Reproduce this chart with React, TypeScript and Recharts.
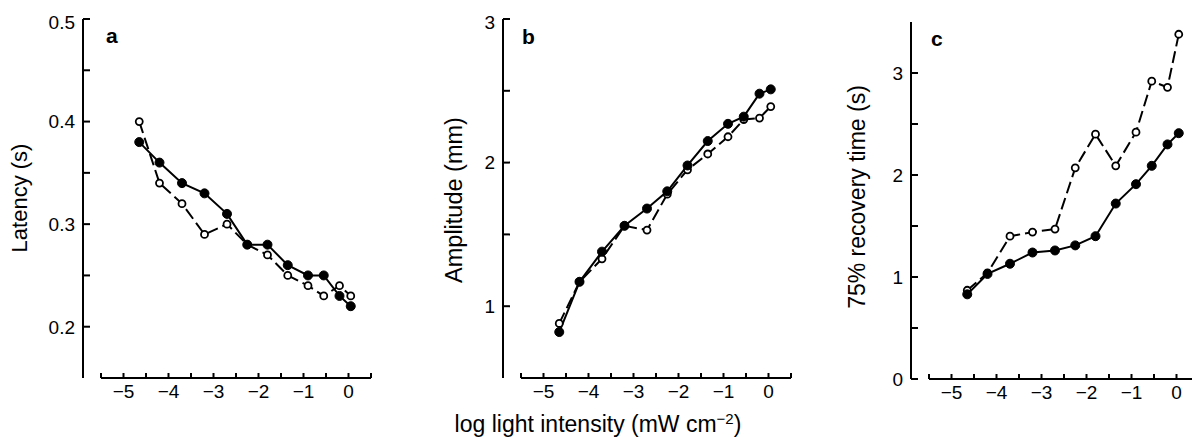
import React from 'react';
import { LineChart, Line, XAxis, YAxis, ReferenceLine } from 'recharts';

// log light intensity (mW cm^-2) for each stimulus
const intensity = [-4.65, -4.2, -3.7, -3.2, -2.7, -2.25, -1.8, -1.35, -0.9, -0.55, -0.2, 0.05];

// panel a: latency (s)
const latencyFilled = [0.38, 0.36, 0.34, 0.33, 0.31, 0.28, 0.28, 0.26, 0.25, 0.25, 0.23, 0.22];
const latencyOpen = [0.40, 0.34, 0.32, 0.29, 0.30, 0.28, 0.27, 0.25, 0.24, 0.23, 0.24, 0.23];

// panel b: amplitude (mm)
const amplitudeFilled = [0.82, 1.17, 1.38, 1.56, 1.68, 1.80, 1.98, 2.15, 2.27, 2.32, 2.48, 2.51];
const amplitudeOpen = [0.88, 1.17, 1.33, 1.56, 1.53, 1.78, 1.95, 2.06, 2.18, 2.30, 2.31, 2.39];

// panel c: 75% recovery time (s)
const recoveryFilled = [0.83, 1.03, 1.13, 1.24, 1.26, 1.31, 1.40, 1.72, 1.91, 2.09, 2.30, 2.41];
const recoveryOpen = [0.87, 1.04, 1.40, 1.44, 1.47, 2.07, 2.40, 2.09, 2.42, 2.92, 2.86, 3.38];

// axis ticks
const xTicks = [-5.5, -5, -4.5, -4, -3.5, -3, -2.5, -2, -1.5, -1, -0.5, 0, 0.5];
const xLabeled = [-5, -4, -3, -2, -1, 0];
const latencyMajor = [0.2, 0.3, 0.4, 0.5];
const latencyMinor = [0.25, 0.35, 0.45];
const amplitudeMajor = [1, 2, 3];
const amplitudeMinor = [1.5, 2.5];
const recoveryMajor = [0, 1, 2, 3];
const recoveryMinor = [0.5, 1.5, 2.5];

const FONT = '"Liberation Sans", Arial, Helvetica, sans-serif';
const X_DOMAIN: [number, number] = [-5.9, 0.5];
const X_LINE: [number, number] = [-5.5, 0.5];

function fmt(v: number, digits: number) {
  const s = Math.abs(v).toFixed(digits);
  return v < 0 ? `\u2212${s}` : s;
}

function XTick(props: any) {
  const { x, y, payload } = props;
  const v = payload.value;
  const labeled = xLabeled.some((t) => Math.abs(t - v) < 1e-6);
  return (
    <g>
      <line x1={x} x2={x} y1={y} y2={y - 5} stroke="#000" strokeWidth={2} />
      {labeled && (
        <text x={x} y={y + 20} textAnchor="middle" fontSize={19} fontFamily={FONT} fill="#000">
          {fmt(v, 0)}
        </text>
      )}
    </g>
  );
}

function makeYTick(major: number[], digits: number, topValue: number) {
  return function YTick(props: any) {
    const { x, y, payload } = props;
    const v = payload.value;
    const isMajor = major.some((t) => Math.abs(t - v) < 1e-6);
    const shift = Math.abs(v - topValue) < 1e-6 ? 3 : 0;
    return (
      <g>
        <line x1={x} x2={x + 7} y1={y} y2={y} stroke="#000" strokeWidth={2} />
        {isMajor && (
          <text x={x - 8} y={y + shift} dy="0.36em" textAnchor="end" fontSize={19} fontFamily={FONT} fill="#000">
            {fmt(v, digits)}
          </text>
        )}
      </g>
    );
  };
}

type PanelProps = {
  left: number;
  yWidth: number;
  top: number;
  bottom: number;
  filled: number[];
  open: number[];
  yDomain: [number, number];
  major: number[];
  minor: number[];
  digits: number;
  topShiftValue: number;
};

function Panel(p: PanelProps) {
  const data = intensity.map((x, i) => ({ x, filled: p.filled[i], open: p.open[i] }));
  const height = 437;
  const xAxisHeight = height - p.bottom;
  const width = p.yWidth + 288 + 12;
  const ticks = [...p.major, ...p.minor].sort((a, b) => a - b);
  const YT = makeYTick(p.major, p.digits, p.topShiftValue);
  return (
    <div style={{ position: 'absolute', left: p.left - p.yWidth, top: 0, width, height }}>
      <LineChart width={width} height={height} data={data} margin={{ top: p.top, right: 12, bottom: 0, left: 0 }}>
        <XAxis
          dataKey="x"
          type="number"
          domain={X_DOMAIN}
          ticks={xTicks}
          interval={0}
          height={xAxisHeight}
          axisLine={false}
          tickLine={false}
          tickSize={0}
          tickMargin={0}
          tick={<XTick />}
          allowDataOverflow
        />
        <YAxis
          type="number"
          domain={p.yDomain}
          ticks={ticks}
          interval={0}
          width={p.yWidth}
          axisLine={{ stroke: '#000', strokeWidth: 2 }}
          tickLine={false}
          tickSize={0}
          tickMargin={0}
          tick={<YT />}
          allowDataOverflow
        />
        <ReferenceLine
          segment={[
            { x: X_LINE[0], y: p.yDomain[0] },
            { x: X_LINE[1], y: p.yDomain[0] },
          ]}
          stroke="#000"
          strokeWidth={2}
          ifOverflow="visible"
        />
        <Line
          dataKey="open"
          stroke="#000"
          strokeWidth={2}
          strokeDasharray="12 5"
          dot={{ r: 3.5, fill: '#fff', stroke: '#000', strokeWidth: 1.8, strokeDasharray: 'none' }}
          isAnimationActive={false}
        />
        <Line
          dataKey="filled"
          stroke="#000"
          strokeWidth={2}
          dot={{ r: 4.5, fill: '#000', stroke: '#000', strokeWidth: 1 }}
          isAnimationActive={false}
        />
      </LineChart>
    </div>
  );
}

export default function App() {
  return (
    <div
      style={{
        position: 'absolute',
        left: 0,
        top: 0,
        width: 1192,
        height: 437,
        overflow: 'hidden',
        background: '#fff',
      }}
    >
      <Panel
        left={83}
        yWidth={83}
        top={19}
        bottom={378}
        filled={latencyFilled}
        open={latencyOpen}
        yDomain={[0.15, 0.5]}
        major={latencyMajor}
        minor={latencyMinor}
        digits={1}
        topShiftValue={0.5}
      />
      <Panel
        left={503}
        yWidth={60}
        top={19}
        bottom={378}
        filled={amplitudeFilled}
        open={amplitudeOpen}
        yDomain={[0.5, 3]}
        major={amplitudeMajor}
        minor={amplitudeMinor}
        digits={0}
        topShiftValue={3}
      />
      <Panel
        left={911}
        yWidth={60}
        top={22}
        bottom={379}
        filled={recoveryFilled}
        open={recoveryOpen}
        yDomain={[0, 3.5]}
        major={recoveryMajor}
        minor={recoveryMinor}
        digits={0}
        topShiftValue={99}
      />
      <svg
        width={1192}
        height={437}
        style={{ position: 'absolute', left: 0, top: 0, pointerEvents: 'none' }}
      >
        <g fontFamily={FONT} fill="#000">
          <text x={106} y={43} fontSize={21} fontWeight="bold">a</text>
          <text x={522} y={44} fontSize={21} fontWeight="bold">b</text>
          <text x={931} y={46} fontSize={21} fontWeight="bold">c</text>
          <text transform="translate(27,198) rotate(-90)" textAnchor="middle" fontSize={22}>Latency (s)</text>
          <text transform="translate(462,200) rotate(-90)" textAnchor="middle" fontSize={23.5}>Amplitude (mm)</text>
          <text transform="translate(865,197) rotate(-90)" textAnchor="middle" fontSize={23}>75% recovery time (s)</text>
          <text x={598} y={432} textAnchor="middle" fontSize={23}>
            log light intensity (mW cm
            <tspan dy={-8} fontSize={15}>{'\u22122'}</tspan>
            <tspan dy={8}>)</tspan>
          </text>
        </g>
      </svg>
    </div>
  );
}
